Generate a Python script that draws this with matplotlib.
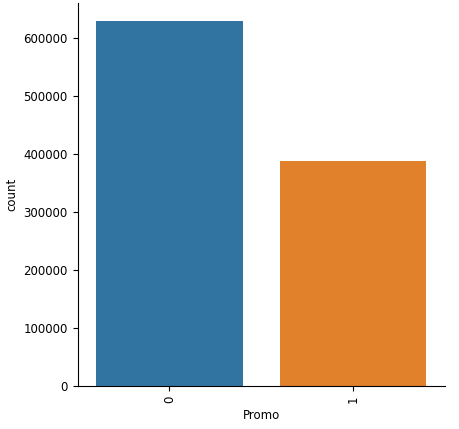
import matplotlib
matplotlib.use("Agg")
import matplotlib.pyplot as plt

promo = ["0", "1"]
counts = [629129, 388080]
colors = ["#3274a1", "#e1812c"]

plt.rcParams["font.size"] = 8.5

fig = plt.figure(figsize=(4.59, 4.29), dpi=100)
ax = fig.add_axes([0.169, 0.100, 0.800, 0.893])
ax.bar(range(len(promo)), counts, width=0.8, color=colors)
ax.set_xlim(-0.5, len(promo) - 0.5)
ax.set_ylim(0, max(counts) * 1.05)
ax.set_xticks(range(len(promo)))
ax.set_xticklabels(promo, rotation=90)
ax.set_xlabel("Promo")
ax.set_ylabel("count")
ax.spines["top"].set_visible(False)
ax.spines["right"].set_visible(False)

fig.savefig("out.png", dpi=100)
